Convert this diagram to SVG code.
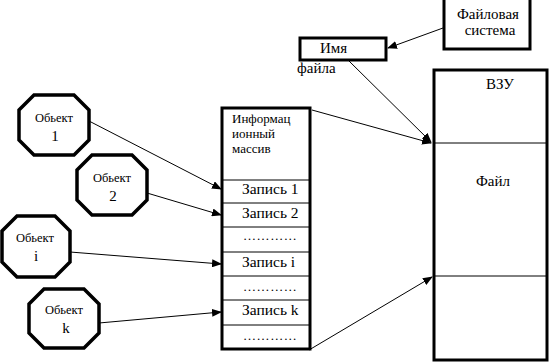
<svg xmlns="http://www.w3.org/2000/svg" width="550" height="362" viewBox="0 0 550 362">
<style>
.box{fill:#fff;stroke:#000;stroke-width:3}
.oct{fill:#fff;stroke:#000;stroke-width:3.5}
.sep{stroke:#000;stroke-width:1}
.t{font-family:"Liberation Serif",serif;fill:#000}
.c{text-anchor:middle}
.r{font-size:15.5px}
.d{font-size:13px;letter-spacing:0.6px}
.o{font-size:12.5px}
.n{font-size:15px}
.con{stroke:#000;stroke-width:1;fill:none;marker-end:url(#ah)}
</style>
<defs>
<marker id="ah" markerWidth="10" markerHeight="8" refX="9" refY="4" orient="auto" markerUnits="userSpaceOnUse">
<path d="M0,0 L10,4 L0,8 Z" fill="#000"/>
</marker>
</defs>
<g id="connectors">
<line class="con" x1="443" y1="28" x2="388" y2="48"/>
<line class="con" x1="349" y1="61" x2="431" y2="142"/>
<line class="con" x1="312" y1="110" x2="431" y2="143"/>
<line class="con" x1="309" y1="350" x2="432" y2="277"/>
<line class="con" x1="89" y1="121" x2="221" y2="189"/>
<line class="con" x1="147" y1="193" x2="221" y2="215"/>
<line class="con" x1="70" y1="252" x2="221" y2="264"/>
<line class="con" x1="99" y1="323" x2="221" y2="312"/>
</g>
<g id="filesystem">
<rect class="box" x="444" y="-2" width="86" height="51"/>
<text class="t c n" x="488" y="19">Файловая</text>
<text class="t c n" x="490" y="35">система</text>
</g>
<g id="filename">
<rect class="box" x="300" y="38" width="86" height="22"/>
<text class="t n" x="320" y="53">Имя</text>
<text class="t n" x="297" y="73">файла</text>
</g>
<g id="vzu">
<rect class="box" x="434" y="70" width="113" height="290"/>
<line class="sep" x1="434" y1="143" x2="547" y2="143"/>
<line class="sep" x1="434" y1="276" x2="547" y2="276"/>
<text class="t c n" x="500" y="89">ВЗУ</text>
<text class="t c n" x="493" y="186">Файл</text>
</g>
<g id="array">
<rect class="box" x="222" y="108" width="88" height="241"/>
<line class="sep" x1="222" y1="180" x2="310" y2="180"/>
<line class="sep" x1="222" y1="203" x2="310" y2="203"/>
<line class="sep" x1="222" y1="227" x2="310" y2="227"/>
<line class="sep" x1="222" y1="252" x2="310" y2="252"/>
<line class="sep" x1="222" y1="276" x2="310" y2="276"/>
<line class="sep" x1="222" y1="300" x2="310" y2="300"/>
<line class="sep" x1="222" y1="325" x2="310" y2="325"/>
<text class="t" x="232" y="123" font-size="13">Информац</text>
<text class="t" x="232" y="138" font-size="13">ионный</text>
<text class="t" x="232" y="153" font-size="13">массив</text>
<text class="t r" x="242" y="194">Запись 1</text>
<text class="t r" x="242" y="218">Запись 2</text>
<text class="t d" x="243" y="240">…………</text>
<text class="t r" x="242" y="267">Запись i</text>
<text class="t d" x="243" y="291">…………</text>
<text class="t r" x="242" y="315">Запись k</text>
<text class="t d" x="243" y="340">…………</text>
</g>
<g id="obj1">
<polygon class="oct" points="34,95 74,95 89,110 89,140 74,155 34,155 19,140 19,110"/>
<text class="t c o" x="54" y="122">Обьект</text>
<text class="t c n" x="55" y="141">1</text>
</g>
<g id="obj2">
<polygon class="oct" points="92,155 132,155 147,170 147,200 132,215 92,215 77,200 77,170"/>
<text class="t c o" x="112" y="182">Обьект</text>
<text class="t c n" x="113" y="201">2</text>
</g>
<g id="obji">
<polygon class="oct" points="17,216 55,216 70,231 70,262 55,277 17,277 2,262 2,231"/>
<text class="t c o" x="35" y="242">Обьект</text>
<text class="t c n" x="36" y="261">i</text>
</g>
<g id="objk">
<polygon class="oct" points="44,289 84,289 99,304 99,333 84,348 44,348 29,333 29,304"/>
<text class="t c o" x="64" y="314">Обьект</text>
<text class="t c n" x="66" y="333">k</text>
</g>
</svg>
